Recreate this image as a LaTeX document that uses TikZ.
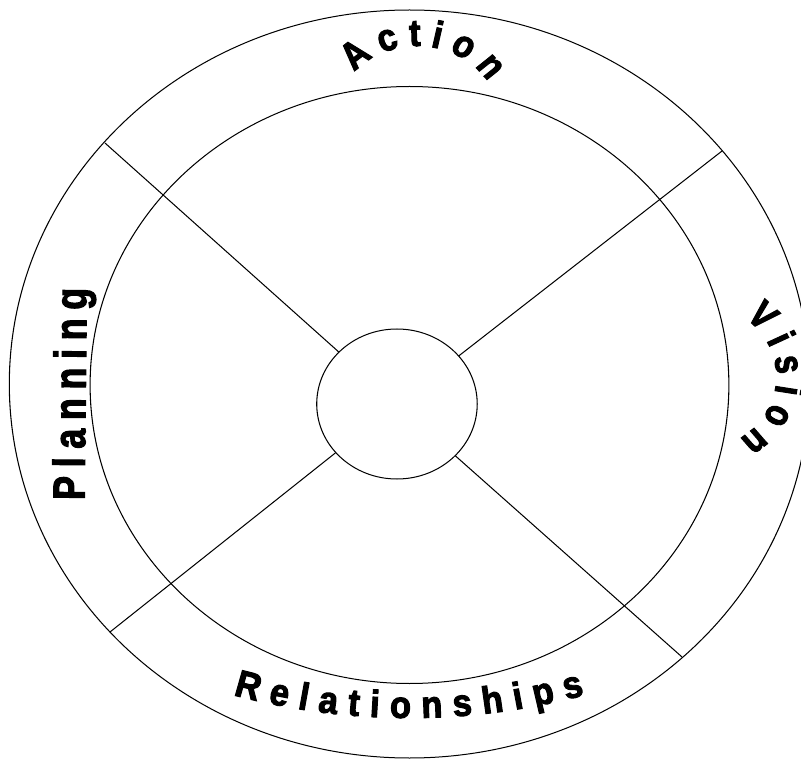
\documentclass[tikz,border=0pt]{standalone}
\usepackage{fontspec}
\setmainfont{Liberation Sans}
\newfontfamily\lblfamily[FakeStretch=0.85, BoldFeatures={FakeBold=2.5}]{Liberation Sans}
\usetikzlibrary{decorations.text}
\newcommand{\lblfont}{\lblfamily\fontsize{38}{44}\selectfont\bfseries}
\newcommand{\lblfontbig}{\lblfamily\fontsize{42}{48}\selectfont\bfseries}
\tikzset{
  ring/.style={circle, draw=black, line width=1pt, inner sep=0pt, outer sep=0pt, minimum size=#1},
  spoke/.style={draw=black, line width=1pt},
  arctext/.style={decorate, decoration={text along path, text align={fit to path}, text={|\lblfont|#1}}},
  arctextbig/.style={decorate, decoration={text along path, text align={fit to path}, text={|\lblfontbig|#1}}},
}
\begin{document}
\begin{tikzpicture}[x=1pt,y=1pt]
\useasboundingbox (0,0) rectangle (801,-759);
\clip (0,0) rectangle (801,-759);
\begin{scope}[transform canvas={xscale=1.07}]
  \node[ring=748pt] (outer) at (382.7,-384) {};
  \node[ring=597pt] (inner) at (382.7,-385) {};
  \node[ring=150pt] (hub) at (371,-404) {};
  \coordinate (p1) at (98.1,-143);
  \coordinate (p2) at (674.8,-151);
  \coordinate (p3) at (102.8,-632);
  \coordinate (p4) at (637.4,-657);
  \draw[spoke] (hub) -- (p1);
  \draw[spoke] (hub) -- (p2);
  \draw[spoke] (hub) -- (p3);
  \draw[spoke] (hub) -- (p4);
  \coordinate (actc) at (390,-125);
  \coordinate (relc) at (382.2,-118);
  \coordinate (visc) at (653,-376.5);
  \coordinate (plas) at (79,-500);
  \coordinate (plae) at (81,-288);
  \path[arctext=Action] ([shift={(138:79)}]actc) arc[start angle=138, end angle=33.4, radius=79];
  \path[arctext=Relationships] ([shift={(254.1:600)}]relc) arc[start angle=254.1, end angle=285.9, radius=600];
  \path[arctext=Vision] ([shift={(54:72.7)}]visc) arc[start angle=54, end angle=-58.7, radius=72.7];
  \path[arctextbig=Planning] (plas) -- (plae);
\end{scope}
\end{tikzpicture}
\end{document}
